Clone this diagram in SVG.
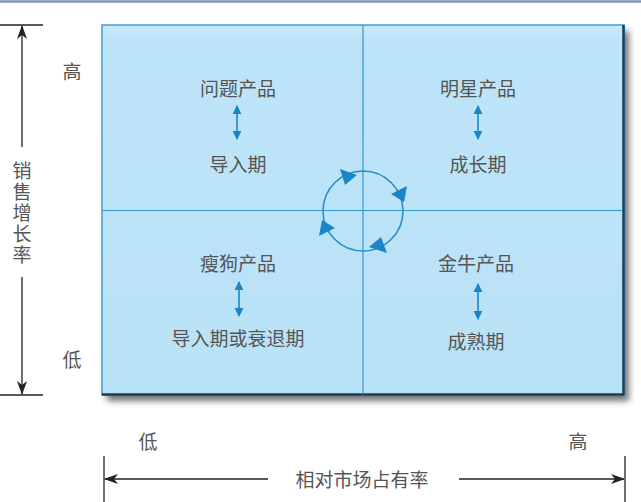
<svg xmlns="http://www.w3.org/2000/svg" width="641" height="502" viewBox="0 0 641 502">
<style>
text{font-family:"Noto Sans CJK SC","Noto Sans",sans-serif;fill:#555;font-size:19px;text-anchor:middle;dominant-baseline:central}
.vert{writing-mode:vertical-rl;letter-spacing:2px}
.grid{stroke:#3496cc;stroke-width:1.2;fill:none}
.axis{stroke:#222;stroke-width:1.3;fill:none}
.dbl{stroke:#1a86c8;stroke-width:1.6;fill:none}
.cyc{stroke:#2a8cc8;stroke-width:1.6;fill:none}
.tri{fill:#1a86c8}
</style>
<defs>
<marker id="ax" viewBox="0 0 14 10" refX="13" refY="5" markerWidth="14" markerHeight="10" markerUnits="userSpaceOnUse" orient="auto">
<path d="M0,0 L14,5 L0,10 L4,5 Z" fill="#222"/>
</marker>
<marker id="bl" viewBox="0 0 10 10" refX="9" refY="5" markerWidth="9" markerHeight="10" markerUnits="userSpaceOnUse" orient="auto-start-reverse">
<path d="M0,0 L10,5 L0,10 Z" fill="#1a86c8"/>
</marker>
<filter id="sh" x="-10%" y="-10%" width="125%" height="125%">
<feGaussianBlur stdDeviation="3"/>
</filter>
<linearGradient id="bg" x1="0" y1="0" x2="0" y2="1">
<stop offset="0" stop-color="#cbeafa"/>
<stop offset="0.04" stop-color="#bde4f8"/>
<stop offset="1" stop-color="#bae2f7"/>
</linearGradient>
</defs>
<line x1="0" y1="1.5" x2="641" y2="1.5" stroke="#8190b4" stroke-width="2.5"/>
<g id="matrix">
<rect x="107" y="31" width="522" height="370" fill="#444" opacity="0.75" filter="url(#sh)"/>
<rect x="102" y="25" width="522" height="370" fill="url(#bg)" stroke="#3f9fd3" stroke-width="1.5"/>
<path d="M102,394.5 H624 M623.5,25 V395" stroke="#173e5c" stroke-width="2.5" fill="none"/>
<line class="grid" x1="363" y1="25" x2="363" y2="394"/>
<line class="grid" x1="102" y1="210.5" x2="623" y2="210.5"/>
</g>
<g id="connectors">
<g id="cycle">
<circle class="cyc" cx="363" cy="211" r="40"/>
<path class="tri" d="M357,175 L340,169 L345,185 Z"/>
<path class="tri" d="M407,186 L391,194 L404,202 Z"/>
<path class="tri" d="M369,247 L387,253 L381,237 Z"/>
<path class="tri" d="M319,236 L335,228 L322,220 Z"/>
</g>
<line class="dbl" x1="237" y1="106" x2="237" y2="139" marker-start="url(#bl)" marker-end="url(#bl)"/>
<line class="dbl" x1="478" y1="106" x2="478" y2="139" marker-start="url(#bl)" marker-end="url(#bl)"/>
<line class="dbl" x1="239" y1="282" x2="239" y2="316" marker-start="url(#bl)" marker-end="url(#bl)"/>
<line class="dbl" x1="478" y1="284" x2="478" y2="319" marker-start="url(#bl)" marker-end="url(#bl)"/>
</g>
<g id="node-wenti"><text x="238" y="87">问题产品</text><text x="238" y="163">导入期</text></g>
<g id="node-mingxing"><text x="478" y="87">明星产品</text><text x="478" y="163">成长期</text></g>
<g id="node-shougou"><text x="238" y="262">瘦狗产品</text><text x="238" y="337">导入期或衰退期</text></g>
<g id="node-jinniu"><text x="476" y="262">金牛产品</text><text x="476" y="340">成熟期</text></g>
<g id="y-axis">
<line class="axis" x1="0" y1="25" x2="43" y2="25"/>
<line class="axis" x1="0" y1="395" x2="43" y2="395"/>
<line class="axis" x1="22" y1="147" x2="22" y2="26" marker-end="url(#ax)"/>
<line class="axis" x1="22" y1="277" x2="22" y2="394" marker-end="url(#ax)"/>
<text class="vert" x="22" y="214">销售增长率</text>
<text x="72" y="70">高</text>
<text x="72" y="358">低</text>
</g>
<g id="x-axis">
<line class="axis" x1="104" y1="456" x2="104" y2="502"/>
<line class="axis" x1="625" y1="456" x2="625" y2="502"/>
<line class="axis" x1="268" y1="479" x2="105" y2="479" marker-end="url(#ax)"/>
<line class="axis" x1="459" y1="479" x2="624" y2="479" marker-end="url(#ax)"/>
<text x="362" y="478">相对市场占有率</text>
<text x="148" y="440">低</text>
<text x="578" y="440">高</text>
</g>
</svg>
